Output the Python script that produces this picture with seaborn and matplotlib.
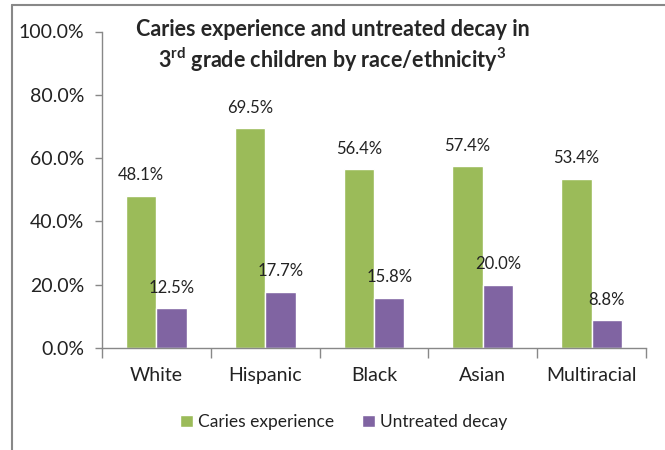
import matplotlib
matplotlib.use("Agg")
import matplotlib.pyplot as plt
import matplotlib.ticker as mticker
from matplotlib.lines import Line2D
import pandas as pd
import seaborn as sns

groups = ["White", "Hispanic", "Black", "Asian", "Multiracial"]
caries = [48.1, 69.5, 56.4, 57.4, 53.4]
untreated = [12.5, 17.7, 15.8, 20.0, 8.8]
series = ["Caries experience", "Untreated decay"]
colors = ["#9BBB59", "#8064A2"]

df = pd.DataFrame({
    "group": groups * 2,
    "value": caries + untreated,
    "measure": [series[0]] * len(groups) + [series[1]] * len(groups),
})

sns.set_style("white")
plt.rcParams["font.family"] = ["Lato", "DejaVu Sans"]
plt.rcParams["mathtext.fontset"] = "custom"
plt.rcParams["mathtext.bf"] = "Lato:bold"

fig = plt.figure(figsize=(6.65, 4.5), dpi=100)
ax = fig.add_axes([102 / 665, 1 - 348 / 450, 544 / 665, (348 - 31.5) / 450])

sns.barplot(data=df, x="group", y="value", hue="measure", palette=colors,
            width=0.56, saturation=1, ax=ax, legend=True)

for cont in ax.containers:
    ax.bar_label(cont, labels=[f"{b.get_height():.1f}%" for b in cont],
                 padding=9, fontsize=12, color="#222222")

ax.set_ylim(0, 100)
ax.set_xlim(-0.5, 4.5)
ax.yaxis.set_major_locator(mticker.MultipleLocator(20))
ax.yaxis.set_major_formatter(mticker.FuncFormatter(lambda v, p: f"{v:.1f}%"))
ax.set_xlabel("")
ax.set_ylabel("")
ax.xaxis.set_minor_locator(mticker.FixedLocator([-0.5, 0.5, 1.5, 2.5, 3.5, 4.5]))
ax.tick_params(axis="x", which="major", length=0, pad=14, labelsize=14, colors="#222222")
ax.tick_params(axis="x", which="minor", length=7, width=1, color="#888888", bottom=True)
ax.tick_params(axis="y", length=5, width=1, color="#888888", left=True, labelsize=14,
               labelcolor="#222222", pad=8)
sns.despine(ax=ax)
for s in ["left", "bottom"]:
    ax.spines[s].set_color("#888888")
    ax.spines[s].set_linewidth(1)

handles, labels = ax.get_legend_handles_labels()
ax.legend_.remove()
fig.legend(handles, labels, loc="center", bbox_to_anchor=(344 / 665, 1 - 422 / 450),
           ncol=2, frameon=False, fontsize=12.5, handlelength=0.75, handleheight=0.75,
           handletextpad=0.3, columnspacing=1.6, labelcolor="#222222")

fig.text(0.5, 1 - 29 / 450, "Caries experience and untreated decay in",
         ha="center", va="center", fontsize=15.5, fontweight="bold")
fig.text(0.5, 1 - 60 / 450,
         r"3$^{\mathbf{rd}}$ grade children by race/ethnicity$^{\mathbf{3}}$",
         ha="center", va="center", fontsize=15.5, fontweight="bold")

fig.add_artist(Line2D([12 / 665, 12 / 665], [0, 1 - 5 / 450], color="#888888", lw=1.5))
fig.add_artist(Line2D([12 / 665, 1], [1 - 5 / 450, 1 - 5 / 450], color="#888888", lw=1.5))

fig.savefig("out.png", dpi=100)
